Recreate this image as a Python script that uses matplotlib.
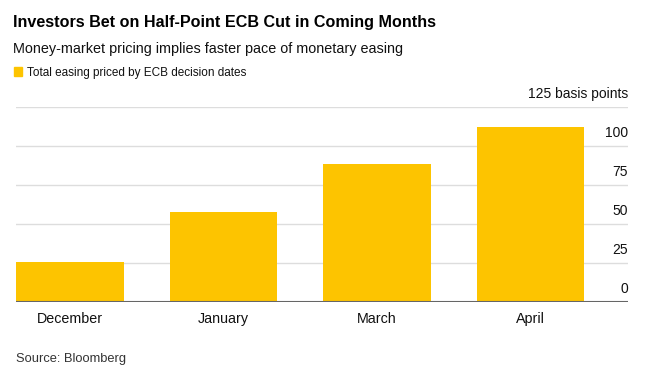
import matplotlib.pyplot as plt
import matplotlib.transforms as mtransforms
from matplotlib.patches import Rectangle

plt.rcParams['font.family'] = ['Liberation Sans', 'DejaVu Sans']

# data
months = ["December", "January", "March", "April"]
easing = [25.5, 57.5, 88.5, 112]
y_ticks = [0, 25, 50, 75, 100, 125]
y_labels = ["0", "25", "50", "75", "100", "125 basis points"]

bar_color = "#FDC400"
W, H = 650, 373

fig = plt.figure(figsize=(W / 100, H / 100), dpi=100)

# axes placed in pixel terms
left, right, top, bottom = 16, 628, 106.7, 302
ax = fig.add_axes([left / W, 1 - bottom / H, (right - left) / W, (bottom - top) / H])

x = list(range(len(months)))
ax.bar(x, easing, width=0.70, color=bar_color, zorder=2)
ax.set_xlim(-0.352, 3.635)
ax.set_ylim(0, 125)

# grid lines
for v in y_ticks[1:]:
    ax.axhline(v, color="#dddddd", lw=1, zorder=1)
ax.axhline(0, color="#666666", lw=1.5, zorder=3)

for s in ax.spines.values():
    s.set_visible(False)
ax.set_yticks([])
ax.set_xticks(x)
ax.set_xticklabels(months, fontsize=10.3, color="#111111")
ax.tick_params(axis="x", length=0, pad=7)

# y labels sit above the grid lines, right aligned at the edge
trans = mtransforms.blended_transform_factory(ax.transAxes, ax.transData)
trans = trans + mtransforms.ScaledTranslation(0, 6 / 100, fig.dpi_scale_trans)
for v, lab in zip(y_ticks, y_labels):
    ax.text(1.0, v, lab, transform=trans, ha="right", va="bottom",
            fontsize=10, color="#111111")

fig.text(13 / W, 1 - 27 / H, "Investors Bet on Half-Point ECB Cut in Coming Months",
         fontsize=11.6, fontweight="bold", va="baseline", ha="left", color="#000000")
fig.text(13 / W, 1 - 53 / H, "Money-market pricing implies faster pace of monetary easing",
         fontsize=10.4, va="baseline", ha="left", color="#111111")
fig.patches.append(Rectangle((14 / W, 1 - 76 / H), 8 / W, 9 / H,
                             transform=fig.transFigure, color=bar_color))
fig.text(27 / W, 1 - 76 / H, "Total easing priced by ECB decision dates",
         fontsize=8.5, va="baseline", ha="left", color="#111111")
fig.text(16 / W, 1 - 362 / H, "Source: Bloomberg",
         fontsize=9.3, va="baseline", ha="left", color="#333333")

fig.savefig("out.png", dpi=100)
